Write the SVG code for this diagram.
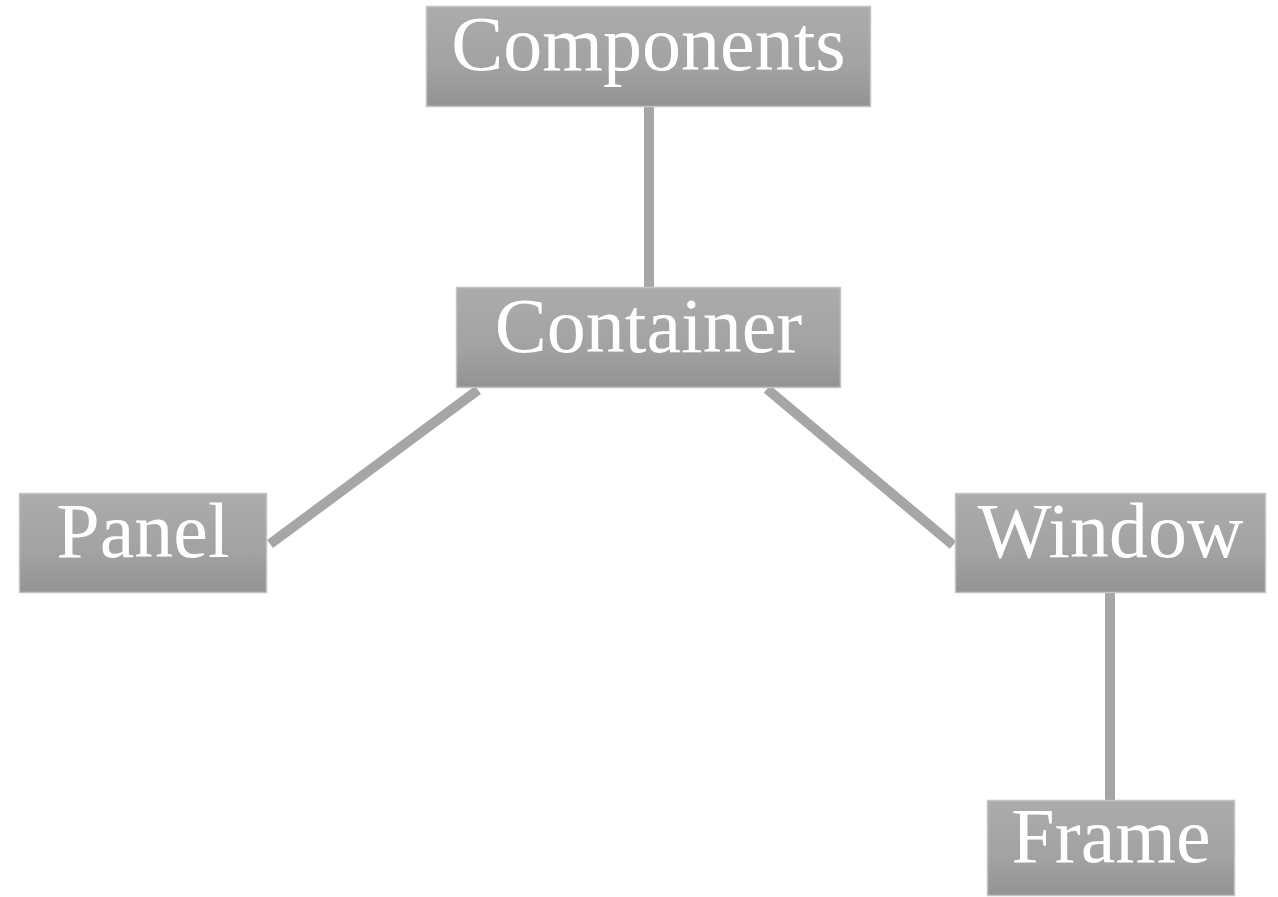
<svg xmlns="http://www.w3.org/2000/svg" width="1278" height="897" viewBox="0 0 1278 897">
  <style>
    .box { fill: url(#boxFill); stroke: #c4c4c4; stroke-width: 1.5; }
    .label { font-family: "Liberation Serif", "Times New Roman", serif; font-size: 78px; fill: #ffffff; text-anchor: middle; }
    .link { stroke: #a6a6a6; stroke-width: 10; fill: none; }
  </style>
  <defs>
    <linearGradient id="boxFill" x1="0" y1="0" x2="0" y2="1">
      <stop offset="0" stop-color="#acacac"/>
      <stop offset="0.6" stop-color="#a2a2a2"/>
      <stop offset="1" stop-color="#939393"/>
    </linearGradient>
  </defs>
  <rect width="1278" height="897" fill="#ffffff"/>

  <g id="connectors">
    <line class="link" x1="649" y1="107" x2="649" y2="287"/>
    <line class="link" x1="478" y1="390" x2="270" y2="544"/>
    <line class="link" x1="767" y1="389" x2="953" y2="545"/>
    <line class="link" x1="1110" y1="593" x2="1110" y2="800"/>
  </g>

  <g id="components">
    <rect class="box" x="426.5" y="6.5" width="444" height="100"/>
    <text class="label" x="648.5" y="70">Components</text>
  </g>
  <g id="container">
    <rect class="box" x="456.5" y="287.5" width="384" height="100"/>
    <text class="label" x="648.5" y="352">Container</text>
  </g>
  <g id="panel">
    <rect class="box" x="19.5" y="493.5" width="247" height="99"/>
    <text class="label" x="143" y="557">Panel</text>
  </g>
  <g id="window">
    <rect class="box" x="955.5" y="493.5" width="310" height="99"/>
    <text class="label" x="1110.5" y="557">Window</text>
  </g>
  <g id="frame">
    <rect class="box" x="987.5" y="800.5" width="247" height="95"/>
    <text class="label" x="1111" y="862">Frame</text>
  </g>
</svg>
